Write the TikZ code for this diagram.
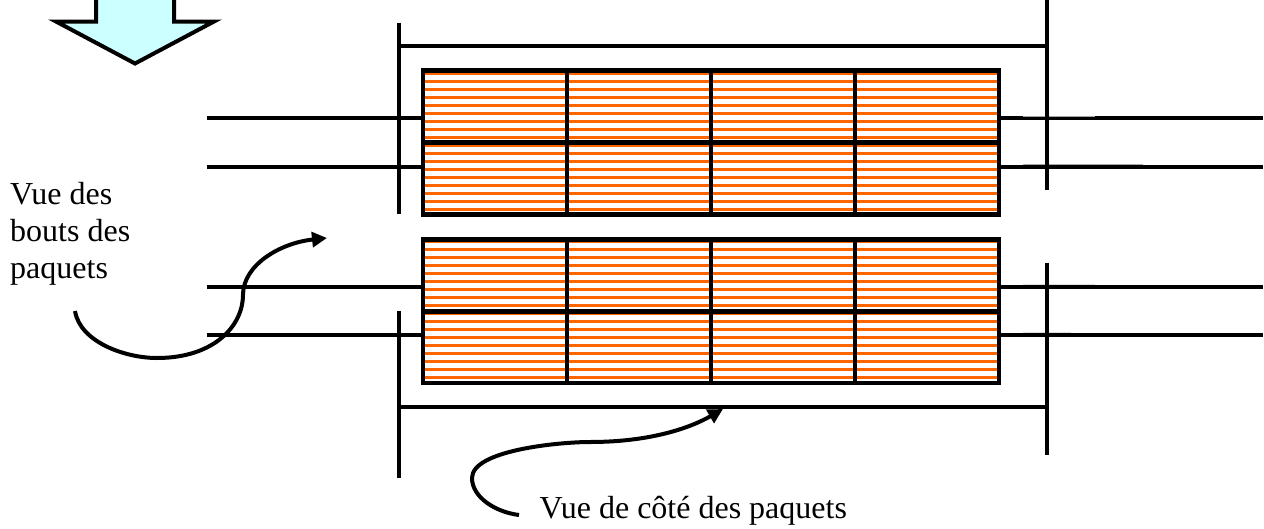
\documentclass[tikz,border=0pt]{standalone}
\usepackage{fontspec}
\setmainfont{Liberation Serif}
\usetikzlibrary{arrows.meta}
\definecolor{bandeorange}{HTML}{FF6600}
\definecolor{flechebleue}{HTML}{CCFFFF}
\tikzset{
  trait/.style={line width=4.2pt},
  courbe/.style={line width=4pt,-{Triangle[length=15pt,width=15pt]}},
  paquet/.style={draw=black,line width=4.4pt,minimum width=144pt,minimum height=72pt,inner sep=0pt},
  legende/.style={font=\fontsize{32}{36.7}\selectfont,inner sep=0pt,align=left},
}
\begin{document}
\begin{tikzpicture}[x=1pt,y=-1pt]
  \useasboundingbox (0,0) rectangle (1264,528);
  % bandes
  \begin{scope}
    \clip (423,70.5) rectangle (999,214.5);
    \foreach \k in {0,...,17}
      \fill[bandeorange] (423,71.5+8*\k) rectangle (999,75.1+8*\k);
  \end{scope}
  \begin{scope}
    \clip (423,239.5) rectangle (999,383);
    \foreach \k in {0,...,17}
      \fill[bandeorange] (423,239.5+8*\k) rectangle (999,243.1+8*\k);
  \end{scope}
  % cases
  \foreach \c/\x in {a/495,b/639,c/783,d/927} {
    \node[paquet] (h1\c) at (\x,106.5) {};
    \node[paquet] (h2\c) at (\x,178.5) {};
    \node[paquet] (b1\c) at (\x,275.3) {};
    \node[paquet] (b2\c) at (\x,347) {};
  }
  % fils
  \foreach \n/\r/\y in {g1/h1/118.3,g2/h2/166.7,g3/b1/287,g4/b2/335} {
    \coordinate (\n) at (207,\y);
    \coordinate (\n d) at (1263.3,\y);
    \draw[trait] (\n) -- (\n -| \r a.west);
    \draw[trait] (\n -| \r d.east) -- (\n d);
  }
  % reprises grises sur les fils de droite
  \foreach \y/\xf/\t in {116/1095/70,164.4/1143/70,284.6/1095/25,332.6/1071/25}
    \draw[line width=1pt,gray!\t] (1023,\y) -- (\xf,\y);
  % cadres
  \coordinate (vg1) at (399,22.7);  \coordinate (vg2) at (399,214);
  \coordinate (vd1) at (1047,0);    \coordinate (vd2) at (1047,190);
  \coordinate (vg3) at (399,311);   \coordinate (vg4) at (399,478);
  \coordinate (vd3) at (1047,262.7); \coordinate (vd4) at (1047,454.5);
  \coordinate (hh) at (399,46.3);   \coordinate (hb) at (399,407);
  \draw[trait] (vg1) -- (vg2);
  \draw[trait] (vd1) -- (vd2);
  \draw[trait] (vg3) -- (vg4);
  \draw[trait] (vd3) -- (vd4);
  \draw[trait] (hh) -- (hh -| vd1);
  \draw[trait] (hb) -- (hb -| vd1);
  % fleche du haut
  \draw[line width=4pt,fill=flechebleue,miter limit=10]
    (96,-5) -- (96,21.5) -- (56,21.5) -- (135,63.5) -- (214,21.5) -- (174,21.5) -- (174,-5) -- cycle;
  % textes
  \node[legende,anchor=north west] (bouts) at (10,182.5) {Vue des\\bouts des\\paquets};
  \node[legende,anchor=base west] (cote) at (539.5,518) {Vue de côté des paquets};
  \coordinate (c1) at (75,311);   \coordinate (f1) at (327,238);
  \coordinate (c2) at (519,515);  \coordinate (f2) at (723,409);
  \draw[courbe] (c1) .. controls (80,342) and (125,358) .. (157,358)
    .. controls (215,358) and (243,325) .. (243,295)
    .. controls (243,265) and (280,243) .. (f1);
  \draw[courbe] (c2) .. controls (495,512) and (472,497) .. (472,478)
    .. controls (472,450) and (560,442) .. (590,442)
    .. controls (650,442) and (690,428) .. (f2);
\end{tikzpicture}
\end{document}
